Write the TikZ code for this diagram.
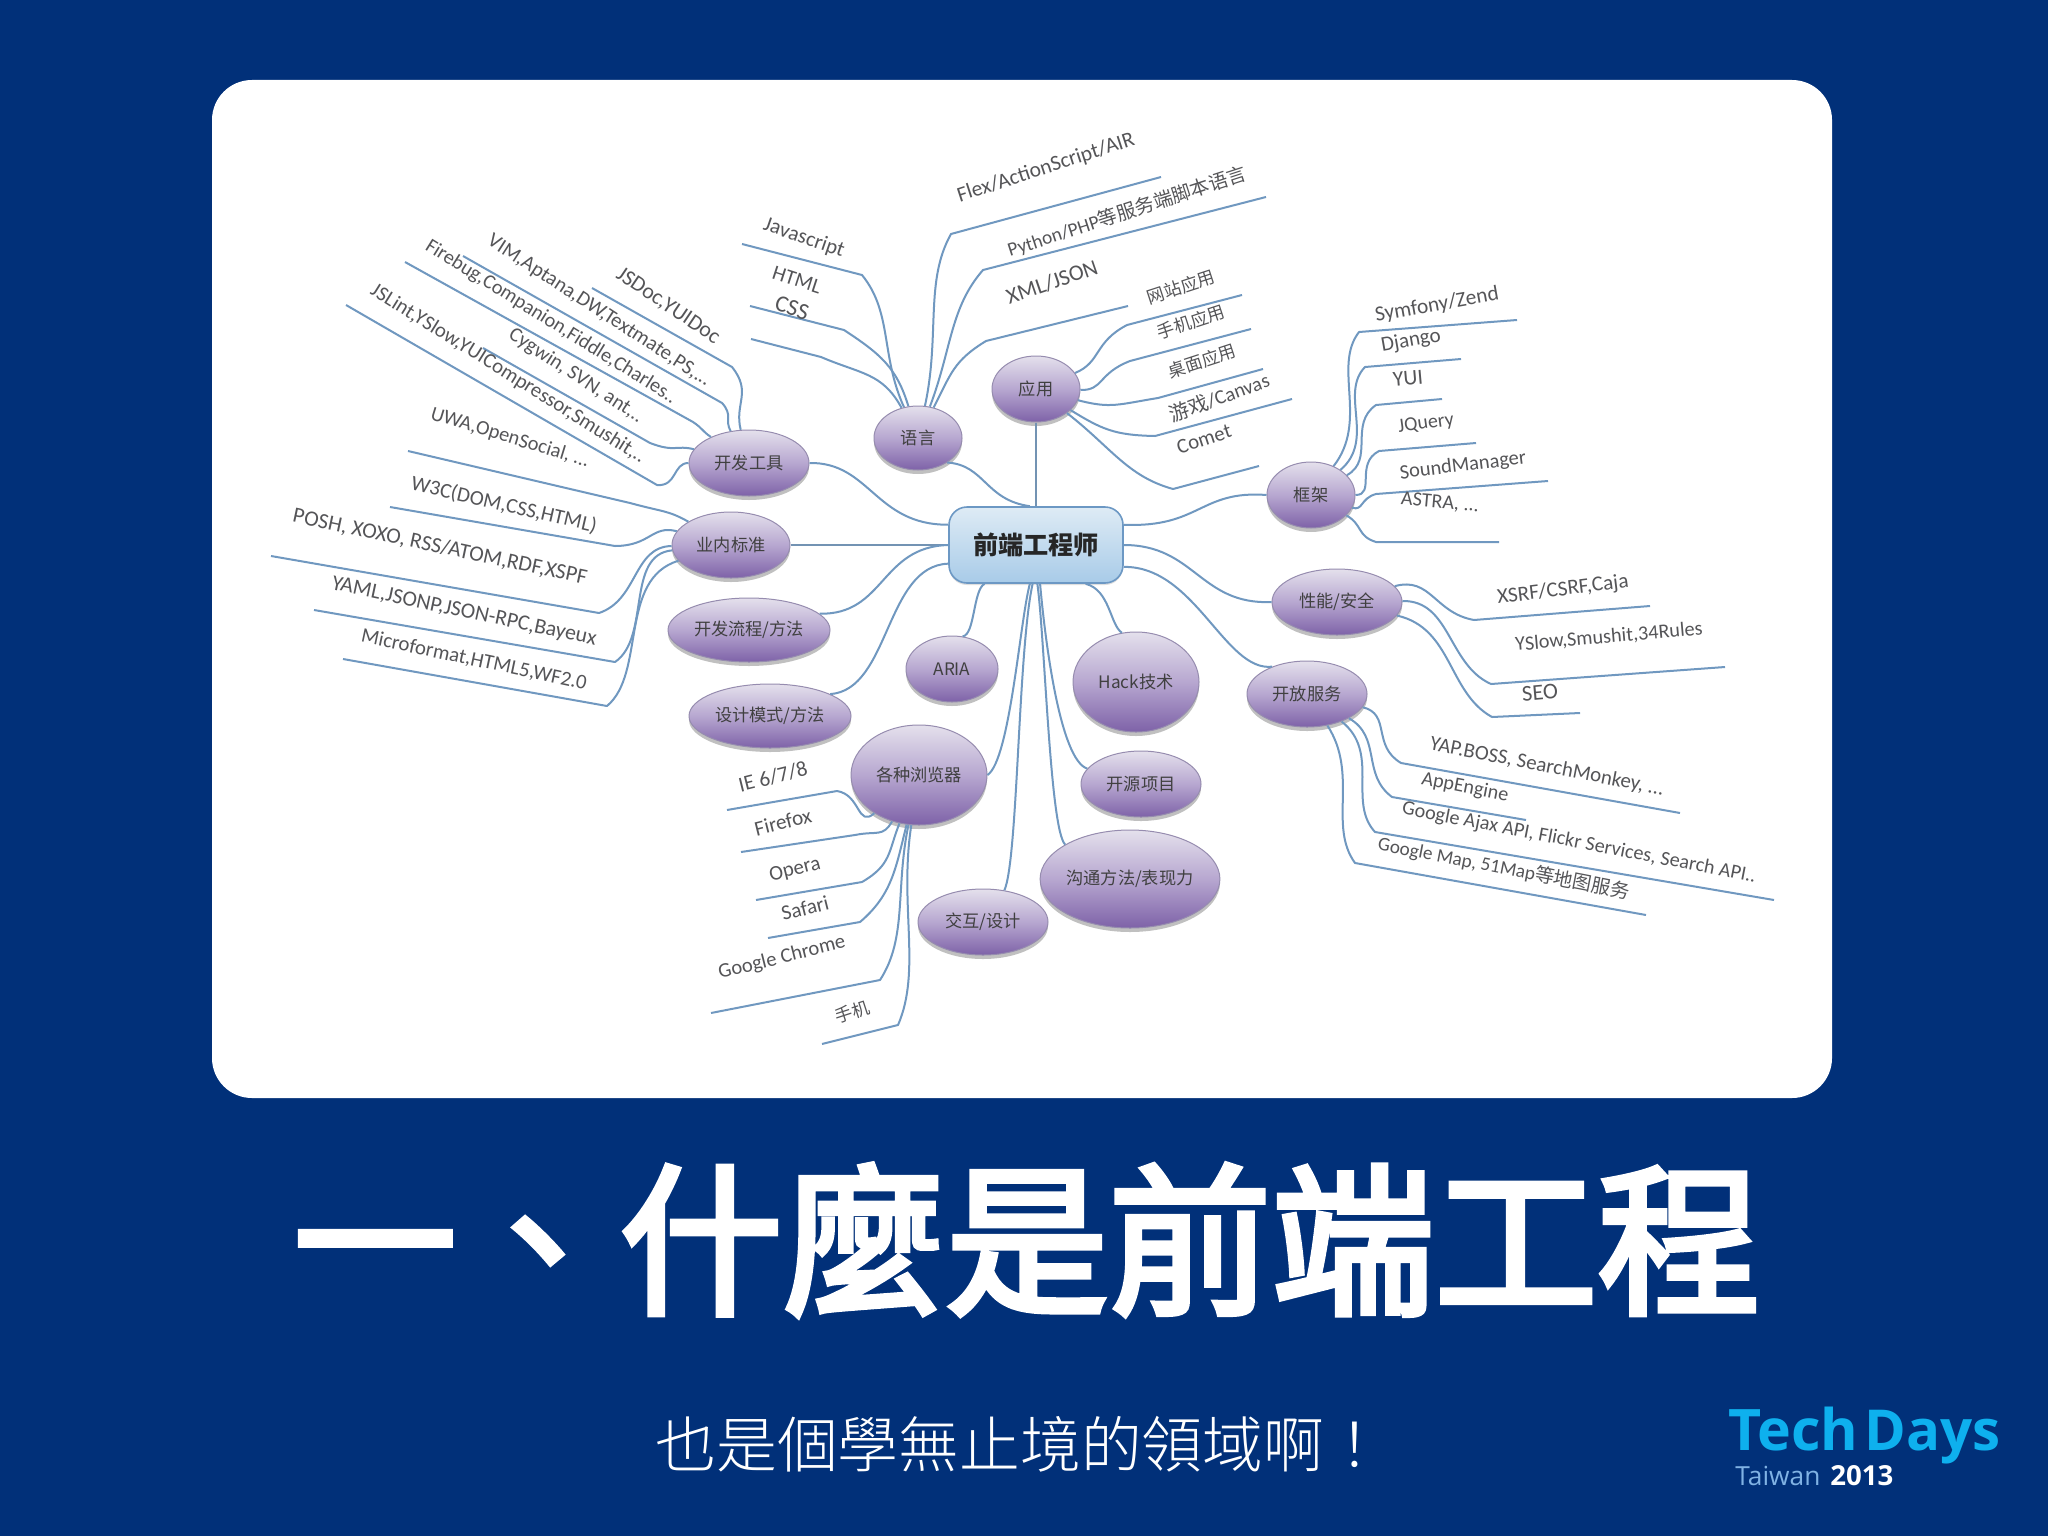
\documentclass[tikz,border=0pt]{standalone}
\usepackage{fontspec}
\usetikzlibrary{calc,shapes.geometric,shadows}
\setmainfont{Carlito}
\newfontfamily\cjk{Noto Sans CJK SC}
\newfontfamily\tc{Noto Sans CJK TC Light}
\newfontfamily\tcm[FakeBold=3.5]{Noto Sans CJK TC}
\newfontfamily\logo{Open Sans}
\definecolor{bgblue}{RGB}{1,48,121}
\definecolor{linkblue}{RGB}{112,152,192}
\definecolor{labgrey}{RGB}{85,85,88}
\definecolor{logoblue}{RGB}{14,176,238}
\definecolor{logosoft}{RGB}{128,178,228}
\definecolor{bubbleedge}{RGB}{150,140,175}
\definecolor{bubtop}{RGB}{228,224,236}
\definecolor{bubmid}{RGB}{183,167,208}
\definecolor{bubbot}{RGB}{126,98,168}
\definecolor{boxedge}{RGB}{108,152,196}
\definecolor{boxtop}{RGB}{222,235,245}
\definecolor{boxbot}{RGB}{168,203,232}
\tikzset{
  bubble/.style={ellipse,inner sep=0pt,draw=bubbleedge,line width=.5pt,top color=bubtop,bottom color=bubbot,middle color=bubmid,
    drop shadow={shadow xshift=0pt,shadow yshift=-2pt,opacity=.35,fill=black!70},font=\cjk\fontsize{8.6}{10}\selectfont,text=black!75},
  mainbox/.style={rectangle,rounded corners=9pt,inner sep=0pt,draw=boxedge,line width=.8pt,top color=boxtop,bottom color=boxbot,
    drop shadow={shadow xshift=0pt,shadow yshift=-1pt,opacity=.25},font=\cjk\bfseries\fontsize{12.6}{14}\selectfont,text=black!85},
  link/.style={draw=linkblue,line width=1pt,line join=round},
  thicklink/.style={draw=linkblue!80!gray,line width=1.3pt},
  maplab/.style={inner sep=0pt,text=labgrey,font=\fontsize{8}{10}\selectfont}
}
\newcounter{brn}
% bubble: name, centre, half width, half height, text
\newcommand\bub[5]{\node[bubble,minimum width=#3pt,minimum height=#4pt] (#1) at (#2) {#5};}
% branch: node, point on its border, bend, free end
\newcommand\branch[4]{\stepcounter{brn}%
  \coordinate (bend\thebrn) at (#3);\coordinate (end\thebrn) at (#4);%
  \path let \p1=($(#2)-(bend\thebrn)$),\n1={veclen(\x1,\y1)},\n2={min(.5*veclen(\x1,\y1),14pt)} in
    coordinate (ca\thebrn) at ($(#2)!-.4*\n1!(#1.center)$)
    coordinate (cx\thebrn) at ($(bend\thebrn)!-\n2!(end\thebrn)$)
    coordinate (cb\thebrn) at ($(cx\thebrn)!.25!(#2)$);%
  \draw[link] (#1) .. controls (ca\thebrn) and (cb\thebrn) .. (bend\thebrn) -- (end\thebrn);}
% label: name, centre, angle, width in px, text
\newcommand\mmlab[5]{\node[maplab,rotate=#3] (#1) at (#2) {\resizebox{\dimexpr#4pt/2\relax}{!}{#5}};}
\begin{document}
\begin{tikzpicture}[x=.5pt,y=-.5pt]
\useasboundingbox (0,0) rectangle (2048,1536);
\fill[bgblue] (0,0) rectangle (2048,1536);
\fill[white,rounded corners=20pt] (212,80) rectangle (1832,1098);

\node[mainbox,minimum width=87pt,minimum height=38pt] (main) at (1036,545) {前端工程师};
\bub{yy}{1036,389}{44}{33}{应用}
\bub{yu}{918,438}{44}{32}{语言}
\bub{kf}{749,463}{60}{33}{开发工具}
\bub{bz}{731,545}{59}{33}{业内标准}
\bub{lc}{749,630}{81}{32}{开发流程/方法}
\bub{ar}{952,669}{46}{33}{ARIA}
\bub{sj}{770,716}{81}{32}{设计模式/方法}
\bub{ll}{919,775}{68}{50}{各种浏览器}
\bub{jh}{983,922}{65}{33}{交互/设计}
\bub{hk}{1136,682}{63}{50}{Hack技术}
\bub{ky}{1141,784}{60}{33}{开源项目}
\bub{gt}{1130,879}{89}{49}{沟通方法/表现力}
\bub{fw}{1307,694}{60}{33}{开放服务}
\bub{xn}{1337,602}{65}{33}{性能/安全}
\bub{kj}{1311,495}{44}{33}{框架}

% centre connectors
\draw[thicklink] (yy.south) -- (main.90);
\draw[thicklink] (bz.east) -- (main.west);
\draw[link] (yu.-40) .. controls (985,465) and (985,500) .. (main.99);
\draw[link] (kf.east) .. controls (870,462) and (875,525) .. (main.167);
\draw[link] (lc.13) .. controls (885,615) and (880,547) .. (main.180);
\draw[link] (sj.20) .. controls (890,690) and (885,566) .. (main.192);
\draw[link] (ar.72) .. controls (975,635) and (973,590) .. (main.217);
\draw[link] (ll.east) .. controls (1010,760) and (1020,620) .. (main.261);
\draw[link] (jh.56) .. controls (1018,860) and (1018,650) .. (main.265);
\draw[link] (gt.152) .. controls (1050,830) and (1045,640) .. (main.272);
\draw[link] (ky.164) .. controls (1060,760) and (1045,640) .. (main.276);
\draw[link] (hk.106) .. controls (1110,625) and (1110,590) .. (main.-38);
\draw[link] (fw.142) .. controls (1225,672) and (1195,566) .. (main.-14);
\draw[link] (xn.west) .. controls (1200,605) and (1195,545) .. (main.east);
\draw[link] (kj.west) .. controls (1200,490) and (1200,528) .. (main.13);

% language
\branch{yu}{903,405}{862,275}{742,244}
\branch{yu}{908,405}{844,330}{750,306}
\branch{yu}{900,405}{821,357}{751,339}
\branch{yu}{926,401}{951,234}{1161,177}
\branch{yu}{932,401}{983,270}{1266,197}
\branch{yu}{937,401}{986,341}{1128,306}
\mmlab{l1}{804,238}{-19}{84}{Javascript}
\mmlab{l2}{797,280}{-18}{50}{HTML}
\mmlab{l3}{792,308}{-18}{34}{CSS}
\mmlab{l4}{1046,168}{18}{185}{Flex/ActionScript/AIR}
\mmlab{l5}{1127,212}{18}{250}{Python/PHP{\cjk 等服务端脚本语言}}
\mmlab{l6}{1052,282}{19}{95}{XML/JSON}
% applications
\branch{yy}{1075,373}{1127,325}{1242,295}
\branch{yy}{1081,390}{1130,361}{1251,329}
\branch{yy}{1081,401}{1158,398}{1263,369}
\branch{yy}{1072,411}{1155,436}{1292,399}
\branch{yy}{1072,417}{1173,489}{1259,466}
\mmlab{a1}{1181,287}{18}{70}{\cjk 网站应用}
\mmlab{a2}{1191,322}{18}{70}{\cjk 手机应用}
\mmlab{a3}{1202,361}{18}{70}{\cjk 桌面应用}
\mmlab{a4}{1219,397}{20}{105}{{\cjk 游戏}/Canvas}
\mmlab{a5}{1204,439}{18}{56}{Comet}
% frameworks
\branch{kj}{1336,463}{1359,332}{1517,320}
\branch{kj}{1345,466}{1365,367}{1461,359}
\branch{kj}{1349,474}{1376,405}{1442,399}
\branch{kj}{1356,495}{1379,451}{1476,443}
\branch{kj}{1353,508}{1376,494}{1548,481}
\branch{kj}{1351,518}{1376,542}{1499,542}
\mmlab{f1}{1437,305}{10}{125}{Symfony/Zend}
\mmlab{f2}{1411,341}{10}{60}{Django}
\mmlab{f3}{1408,378}{5}{30}{YUI}
\mmlab{f4}{1426,424}{8}{56}{JQuery}
\mmlab{f5}{1463,466}{7}{127}{SoundManager}
\mmlab{f6}{1440,503}{-5}{78}{ASTRA, ...}
% performance
\branch{xn}{1399,585}{1474,620}{1650,606}
\branch{xn}{1402,601}{1491,684}{1725,667}
\branch{xn}{1399,616}{1492,717}{1580,713}
\mmlab{p1}{1563,590}{7}{132}{XSRF/CSRF,Caja}
\mmlab{p2}{1609,637}{5}{188}{YSlow,Smushit,34Rules}
\mmlab{p3}{1540,693}{5}{36}{SEO}
% open services
\branch{fw}{1366,708}{1401,763}{1680,813}
\branch{fw}{1352,720}{1392,797}{1526,820}
\branch{fw}{1346,725}{1375,832}{1774,900}
\branch{fw}{1329,728}{1355,863}{1646,915}
\mmlab{o1}{1547,767}{-11}{238}{YAP.BOSS, SearchMonkey, ...}
\mmlab{o2}{1465,788}{-11}{88}{AppEngine}
\mmlab{o3}{1579,843}{-11}{360}{Google Ajax API, Flickr Services, Search API..}
\mmlab{o4}{1504,868}{-11}{256}{Google Map, 51Map{\cjk 等地图服务}}
% dev tools
\branch{kf}{740,427}{732,367}{592,288}
\branch{kf}{730,430}{722,403}{463,256}
\branch{kf}{708,435}{693,422}{405,262}
\branch{kf}{693,449}{650,443}{483,348}
\branch{kf}{688,463}{657,485}{346,305}
\mmlab{d1}{668,306}{-34}{120}{JSDoc,YUIDoc}
\mmlab{d2}{599,311}{-33}{262}{VIM,Aptana,DW,Textmate,PS,...}
\mmlab{d3}{551,322}{-32}{292}{Firebug,Companion,Fiddle,Charles..}
\mmlab{d4}{576,376}{-33}{156}{Cygwin, SVN, ant,..}
\mmlab{d5}{508,374}{-32}{320}{JSLint,YSlow,YUICompressor,Smushit,..}
% standards
\branch{bz}{689,522}{630,503}{408,451}
\branch{bz}{676,531}{615,546}{390,507}
\branch{bz}{673,546}{599,613}{271,556}
\branch{bz}{676,550}{615,662}{314,610}
\branch{bz}{681,560}{607,706}{343,659}
\mmlab{s1}{510,438}{-17}{165}{UWA,OpenSocial, ...}
\mmlab{s2}{504,505}{-13}{190}{W3C(DOM,CSS,HTML)}
\mmlab{s3}{440,547}{-12}{300}{POSH, XOXO, RSS/ATOM,RDF,XSPF}
\mmlab{s4}{464,612}{-12}{270}{YAML,JSONP,JSON-RPC,Bayeux}
\mmlab{s5}{474,660}{-12}{230}{Microformat,HTML5,WF2.0}
% browsers
\branch{ll}{870,817}{837,791}{727,810}
\branch{ll}{890,825}{855,835}{741,852}
\branch{ll}{898,827}{862,882}{756,900}
\branch{ll}{906,827}{860,922}{768,938}
\branch{ll}{908,827}{880,980}{711,1013}
\branch{ll}{911,827}{898,1025}{822,1044}
\mmlab{b1}{773,777}{14}{70}{IE 6/7/8}
\mmlab{b2}{783,822}{14}{58}{Firefox}
\mmlab{b3}{795,870}{14}{52}{Opera}
\mmlab{b4}{805,908}{14}{48}{Safari}
\mmlab{b5}{782,958}{14}{130}{Google Chrome}
\mmlab{b6}{852,1012}{18}{35}{\cjk 手机}

% slide texts
\node[inner sep=0pt,text=white,font=\tcm\fontsize{81.5}{90}\selectfont] (title) at (1027,1240) {一、什麼是前端工程};
\node[inner sep=0pt,anchor=west,text=white,font=\tc\fontsize{30.4}{34}\selectfont] (sub) at (655,1444) {也是個學無止境的領域啊！};
\node[inner sep=0pt,anchor=base west,text=logoblue,font=\logo\bfseries\fontsize{30}{34}\selectfont] (tech) at (1728,1450) {\resizebox{65pt}{!}{Tech}};
\node[inner sep=0pt,anchor=base west,text=logoblue,font=\logo\bfseries\fontsize{30}{34}\selectfont] (days) at (1864,1450) {\resizebox{68pt}{!}{Days}};
\node[inner sep=0pt,anchor=base west,text=logosoft,font=\logo\fontsize{14}{16}\selectfont] (tw) at (1735,1485) {\resizebox{42.5pt}{!}{Taiwan}};
\node[inner sep=0pt,anchor=base west,text=white,font=\logo\bfseries\fontsize{14}{16}\selectfont] (yr) at (1830,1485) {\resizebox{31.5pt}{!}{2013}};
\end{tikzpicture}
\end{document}
